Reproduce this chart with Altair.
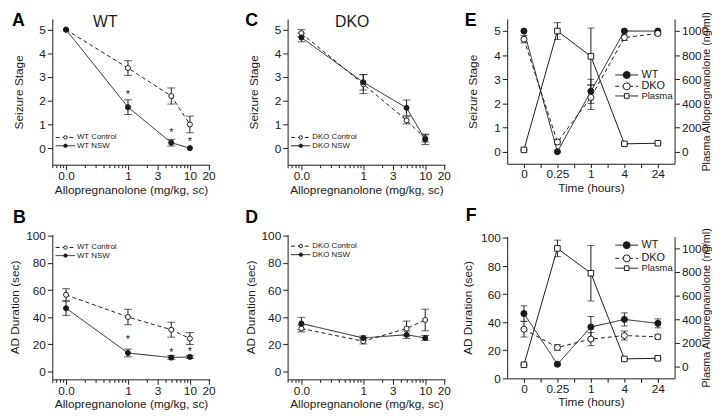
import altair as alt
import pandas as pd

# ---------------- data ----------------
dose_pos = [0.1, 1, 5, 10]          # doses 0, 1, 5, 10 mg/kg ("0.0" drawn at 0.1 on the log axis)
x_major = [0.1, 1, 3, 10, 20]
x_major_labels = ["0.0", "1", "3", "10", "20"]
x_minor = [0.06, 0.07, 0.08, 0.09, 0.2, 0.3, 0.4, 0.5, 0.6, 0.7, 0.8, 0.9, 2, 4, 5, 6, 7, 8, 9]

a_ctrl = [5.0, 3.38, 2.2, 1.0]
a_ctrl_err = [0, 0.31, 0.34, 0.35]
a_nsw = [5.0, 1.73, 0.23, 0.0]
a_nsw_err = [0, 0.31, 0.14, 0]
a_star_dose = [1, 5, 10]
a_star_y = [2.24, 0.65, 0.25]

b_ctrl = [56.5, 40.1, 30.7, 24.2]
b_ctrl_err = [4.5, 5.7, 5.5, 4.4]
b_nsw = [46.6, 13.5, 10.1, 10.6]
b_nsw_err = [5.3, 2.9, 1.5, 1.2]
b_star_dose = [1, 5, 10]
b_star_y = [23.4, 13.5, 14.5]

c_ctrl = [4.85, 2.7, 1.17, 0.41]
c_ctrl_err = [0.15, 0.4, 0.15, 0.15]
c_nsw = [4.67, 2.78, 1.7, 0.37]
c_nsw_err = [0.18, 0.33, 0.33, 0.22]

d_ctrl = [31.6, 22.2, 31.6, 37.9]
d_ctrl_err = [2.5, 2.0, 5.5, 8.0]
d_nsw = [35.3, 24.6, 27.0, 24.6]
d_nsw_err = [4.5, 1.5, 2.7, 1.8]

times = ["0", "0.25", "1", "4", "24"]
e_wt = [5.0, 0.0, 2.5, 5.0, 5.0]
e_wt_err = [0, 0, 0.5, 0, 0]
e_dko = [4.66, 0.4, 2.25, 4.73, 4.9]
e_dko_err = [0.15, 0.1, 0.5, 0.12, 0.05]

f_wt = [46.2, 10.1, 36.6, 42.0, 39.2]
f_wt_err = [5.5, 1.0, 7.5, 4.7, 3.2]
f_dko = [35.0, 22.0, 28.0, 30.5, 29.6]
f_dko_err = [5.5, 2.0, 4.7, 3.2, 1.7]

plasma = [15, 1000, 790, 65, 70]
plasma_err = [5, 70, 235, 5, 5]

FONT = "Liberation Sans"
INK = "#1a1a1a"
SOLID = [1, 0]
DASHED = [4, 3]
INDEP = dict(fill="independent", strokeDash="independent", shape="independent")


def log_x_axis():
    label_expr = "".join(f"datum.value == {v} ? '{l}' : " for v, l in zip(x_major, x_major_labels)) + "''"
    major_test = " || ".join(f"datum.value == {v}" for v in x_major)
    return alt.Axis(values=sorted(x_major + x_minor), labelExpr=label_expr,
                    tickSize={"condition": {"test": major_test, "value": 5}, "value": 3},
                    labelOverlap=False, labelFlush=False, labelPadding=1, titlePadding=3,
                    title="Allopregnanolone (mg/kg, sc)")


def dose_panel(ctrl, ctrl_err, nsw, nsw_err, names, ydom, yvals, ytitle, ytp, w, h,
               letter, ldx, ldy, tag, tag_x, tag_y, leg_y, star_dose=None, star_y=None):
    rows = []
    for name, m, e in ((names[0], ctrl, ctrl_err), (names[1], nsw, nsw_err)):
        for xp, mv, ev in zip(dose_pos, m, e):
            rows.append({"x": xp, "y": mv, "lo": mv - ev, "hi": mv + ev, "s": name})
    df = pd.DataFrame(rows)
    xs = alt.Scale(type="log", domain=[0.06, 21], nice=False)
    ys = alt.Scale(domain=ydom, nice=False, zero=False)
    xax = log_x_axis()
    yax = alt.Axis(values=yvals, title=ytitle, titlePadding=ytp)

    def X(f):
        return alt.X(f"{f}:Q", scale=xs, axis=xax)

    def Y(f):
        return alt.Y(f"{f}:Q", scale=ys, axis=yax)

    dom = sorted(names)
    dash_map = {names[0]: DASHED, names[1]: SOLID}
    fill_map = {names[0]: "white", names[1]: INK}
    dash = alt.StrokeDash("s:N", scale=alt.Scale(domain=dom, range=[dash_map[n] for n in dom]), legend=None)
    fill = alt.Fill("s:N", scale=alt.Scale(domain=dom, range=[fill_map[n] for n in dom]), legend=None)

    base = alt.Chart(df)
    lines = base.mark_line(color=INK, strokeWidth=1).encode(x=X("x"), y=Y("y"), strokeDash=dash)
    ebase = base.transform_filter("datum.hi > datum.lo")
    err = ebase.mark_rule(color=INK, strokeWidth=1).encode(x=X("x"), y=Y("lo"), y2="hi:Q")
    cap_lo = ebase.mark_tick(orient="horizontal", size=8, thickness=1, color=INK).encode(x=X("x"), y=Y("lo"))
    cap_hi = ebase.mark_tick(orient="horizontal", size=8, thickness=1, color=INK).encode(x=X("x"), y=Y("hi"))
    pts = base.mark_point(shape="circle", size=26, filled=True, stroke=INK, strokeWidth=1,
                          opacity=1).encode(x=X("x"), y=Y("y"), fill=fill)

    leg = pd.DataFrame({"x1": [0.068, 0.068], "x2": [0.14, 0.14], "xm": [0.098, 0.098],
                        "xt": [0.15, 0.15], "y": leg_y, "s": names, "label": names})
    lbase = alt.Chart(leg)
    leg_rule = lbase.mark_rule(color=INK, strokeWidth=1).encode(x=X("x1"), x2="x2:Q", y=Y("y"), strokeDash=dash)
    leg_pts = lbase.mark_point(shape="circle", size=12, filled=True, stroke=INK, strokeWidth=1,
                               opacity=1).encode(x=X("xm"), y=Y("y"), fill=fill)
    leg_txt = lbase.mark_text(align="left", baseline="middle", fontSize=8, font=FONT,
                              color=INK).encode(x=X("xt"), y=Y("y"), text="label:N")

    layers = [lines, err, cap_lo, cap_hi, pts, leg_rule, leg_pts, leg_txt]
    if star_dose:
        sdf = pd.DataFrame({"x": star_dose, "y": star_y})
        layers.append(alt.Chart(sdf).mark_text(text="*", fontSize=11, font=FONT, color=INK, fill=INK,
                                               baseline="middle").encode(x=X("x"), y=Y("y")))
    if tag:
        tdf = pd.DataFrame({"x": [tag_x], "y": [tag_y], "t": [tag]})
        layers.append(alt.Chart(tdf).mark_text(fontSize=16, font=FONT, color=INK,
                                               baseline="middle").encode(x=X("x"), y=Y("y"), text="t:N"))
    ldf = pd.DataFrame({"t": [letter]})
    layers.append(alt.Chart(ldf).mark_text(fontSize=18, fontWeight="bold", font=FONT, color="black",
                                           align="left", baseline="middle").encode(
        x=alt.value(ldx), y=alt.value(ldy), text="t:N"))
    return alt.layer(*layers).properties(width=w, height=h)


def time_panel(wt, wt_err, dko, dko_err, ydom, yvals, ytitle, ytp, w, h, letter, ldx, ldy, leg_y):
    rows = []
    for name, m, e in (("WT", wt, wt_err), ("DKO", dko, dko_err)):
        for i, (mv, ev) in enumerate(zip(m, e)):
            rows.append({"x": i, "y": mv, "lo": mv - ev, "hi": mv + ev, "s": name})
    df = pd.DataFrame(rows)
    pdf = pd.DataFrame({"x": list(range(len(times))), "y": plasma,
                        "lo": [p - e for p, e in zip(plasma, plasma_err)],
                        "hi": [p + e for p, e in zip(plasma, plasma_err)]})
    label_expr = "".join(f"datum.value == {i} ? '{t}' : " for i, t in enumerate(times)) + "''"
    xs = alt.Scale(domain=[-0.5, len(times) - 0.5], nice=False, zero=False)
    xax = alt.Axis(values=[i * 0.5 for i in range(2 * len(times) - 1)], labelExpr=label_expr,
                   title="Time (hours)", labelFlush=False, labelOverlap=False, tickSize=4,
                   labelPadding=1, titlePadding=3)
    ys = alt.Scale(domain=ydom, nice=False, zero=False)
    yax = alt.Axis(values=yvals, title=ytitle, titlePadding=ytp)
    rs = alt.Scale(domain=[-100, 1100], nice=False, zero=False)
    rax = alt.Axis(values=[0, 200, 400, 600, 800, 1000], orient="right", format="d",
                   title="Plasma Allopregnanolone (ng/ml)", titleAngle=270, titleFontSize=11)

    def X(f):
        return alt.X(f"{f}:Q", scale=xs, axis=xax)

    def Y(f):
        return alt.Y(f"{f}:Q", scale=ys, axis=yax)

    def R(f):
        return alt.Y(f"{f}:Q", scale=rs, axis=rax)

    lnames = ["WT", "DKO", "Plasma"]
    dom = sorted(lnames)
    dash_map = {"WT": SOLID, "DKO": DASHED, "Plasma": SOLID}
    fill_map = {"WT": INK, "DKO": "white", "Plasma": "white"}
    shape_map = {"WT": "circle", "DKO": "circle", "Plasma": "square"}
    dash = alt.StrokeDash("s:N", scale=alt.Scale(domain=dom, range=[dash_map[n] for n in dom]), legend=None)
    fill = alt.Fill("s:N", scale=alt.Scale(domain=dom, range=[fill_map[n] for n in dom]), legend=None)
    shape = alt.Shape("s:N", scale=alt.Scale(domain=dom, range=[shape_map[n] for n in dom]), legend=None)

    base = alt.Chart(df)
    ebase = base.transform_filter("datum.hi > datum.lo")
    left = [
        base.mark_line(color=INK, strokeWidth=1).encode(x=X("x"), y=Y("y"), strokeDash=dash),
        ebase.mark_rule(color=INK, strokeWidth=1).encode(x=X("x"), y=Y("lo"), y2="hi:Q"),
        ebase.mark_tick(orient="horizontal", size=7, thickness=1, color=INK).encode(x=X("x"), y=Y("lo")),
        ebase.mark_tick(orient="horizontal", size=7, thickness=1, color=INK).encode(x=X("x"), y=Y("hi")),
        base.mark_point(shape="circle", size=38, filled=True, stroke=INK, strokeWidth=1,
                        opacity=1).encode(x=X("x"), y=Y("y"), fill=fill),
    ]
    leg = pd.DataFrame({"x1": [2.73] * 3, "x2": [3.41] * 3, "xm": [3.07] * 3, "xt": [3.51] * 3,
                        "y": leg_y, "s": lnames, "label": lnames,
                        "fs": [11, 11, 9.5], "ms": [50, 50, 22]})
    lbase = alt.Chart(leg)
    left += [
        lbase.mark_rule(color=INK, strokeWidth=1).encode(x=X("x1"), x2="x2:Q", y=Y("y"), strokeDash=dash),
        lbase.mark_point(filled=True, stroke=INK, strokeWidth=1, opacity=1).encode(
            x=X("xm"), y=Y("y"), fill=fill, shape=shape, size=alt.Size("ms:Q", scale=None)),
        lbase.mark_text(align="left", baseline="middle", font=FONT, color=INK).encode(
            x=X("xt"), y=Y("y"), text="label:N", size=alt.Size("fs:Q", scale=None)),
        alt.Chart(pd.DataFrame({"t": [letter]})).mark_text(
            fontSize=18, fontWeight="bold", font=FONT, color="black", align="left",
            baseline="middle").encode(x=alt.value(ldx), y=alt.value(ldy), text="t:N"),
    ]
    pbase = alt.Chart(pdf)
    right = [
        pbase.mark_line(color=INK, strokeWidth=1).encode(x=X("x"), y=R("y")),
        pbase.mark_rule(color=INK, strokeWidth=1).encode(x=X("x"), y=R("lo"), y2="hi:Q"),
        pbase.mark_tick(orient="horizontal", size=7, thickness=1, color=INK).encode(x=X("x"), y=R("lo")),
        pbase.mark_tick(orient="horizontal", size=7, thickness=1, color=INK).encode(x=X("x"), y=R("hi")),
        pbase.mark_point(shape="square", size=32, filled=True, fill="white", stroke=INK, strokeWidth=1,
                         opacity=1).encode(x=X("x"), y=R("y")),
    ]
    return alt.layer(alt.layer(*left), alt.layer(*right)).resolve_scale(y="independent").properties(
        width=w, height=h)


pA = dose_panel(a_ctrl, a_ctrl_err, a_nsw, a_nsw_err, ["WT Control", "WT NSW"], [-0.7, 5.45],
                [0, 1, 2, 3, 4, 5], "Seizure Stage", 14, 160, 148, "A", -41, 2,
                "WT", 0.43, 5.3, [0.45, 0.1], a_star_dose, a_star_y)
pB = dose_panel(b_ctrl, b_ctrl_err, b_nsw, b_nsw_err, ["WT Control", "WT NSW"], [-6, 101],
                [0, 20, 40, 60, 80, 100], "AD Duration (sec)", 4, 160, 147, "B", -40, -17,
                None, None, None, [91.5, 85.5], b_star_dose, b_star_y)
pC = dose_panel(c_ctrl, c_ctrl_err, c_nsw, c_nsw_err, ["DKO Control", "DKO NSW"], [-0.7, 5.45],
                [0, 1, 2, 3, 4, 5], "Seizure Stage", 14, 160, 148, "C", -43, 2,
                "DKO", 0.66, 5.3, [0.45, 0.1])
pD = dose_panel(d_ctrl, d_ctrl_err, d_nsw, d_nsw_err, ["DKO Control", "DKO NSW"], [-6, 101],
                [0, 20, 40, 60, 80, 100], "AD Duration (sec)", 4, 160, 147, "D", -43, -17,
                None, None, None, [92.5, 86.2])
pE = time_panel(e_wt, e_wt_err, e_dko, e_dko_err, [-0.5, 5.5], [0, 1, 2, 3, 4, 5], "Seizure Stage", 14,
                170, 147, "E", -43, 2, [3.18, 2.71, 2.31])
pF = time_panel(f_wt, f_wt_err, f_dko, f_dko_err, [0, 101], [0, 20, 40, 60, 80, 100], "AD Duration (sec)", 6,
                170, 144, "F", -42, -21, [94.9, 85.5, 78.5])

colA = alt.vconcat(pA, pB, spacing=14).resolve_scale(**INDEP)
colC = alt.vconcat(pC, pD, spacing=14).resolve_scale(**INDEP)
colE = alt.vconcat(pE, pF, spacing=14).resolve_scale(**INDEP)

left_cols = alt.hconcat(colA, colC, spacing=28).resolve_scale(**INDEP)
chart = alt.hconcat(left_cols, colE, spacing=10).resolve_scale(**INDEP).properties(
    padding=0, background="white"
).configure_axis(
    labelFont=FONT, titleFont=FONT, labelFontSize=12, titleFontSize=12, titleFontWeight="normal",
    labelColor=INK, titleColor=INK, domainColor=INK, tickColor=INK, grid=False, labelPadding=2,
    domainWidth=1, tickWidth=1
).configure_view(stroke=None)

chart.save("out.html", embed_options={"renderer": "svg", "actions": False})
